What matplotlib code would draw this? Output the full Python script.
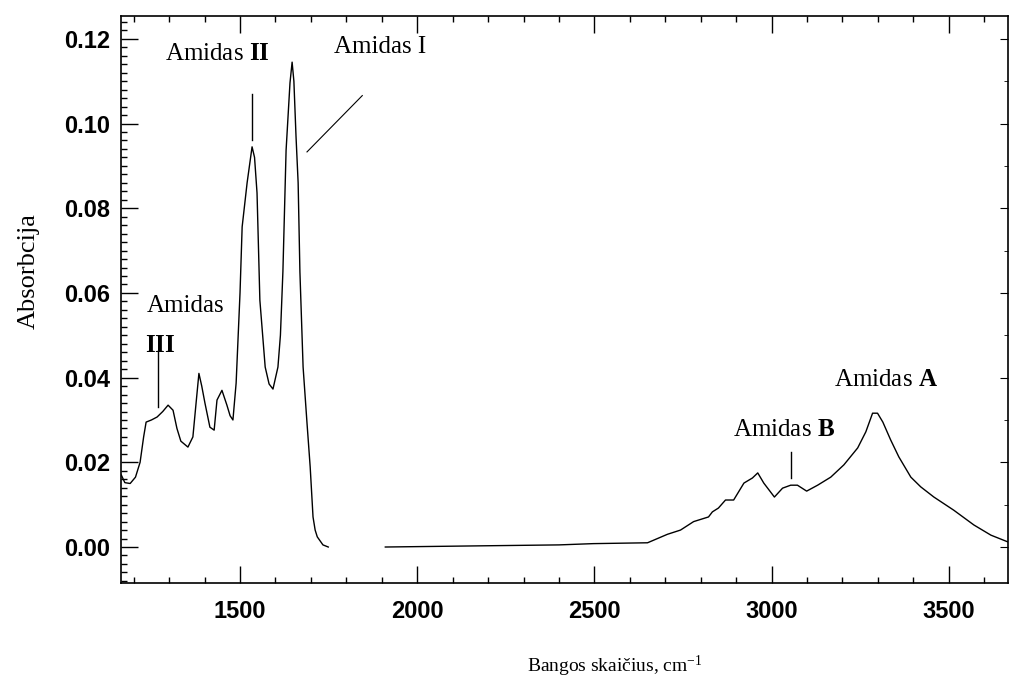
import matplotlib
matplotlib.use('Agg')
import matplotlib.pyplot as plt
from matplotlib.ticker import MultipleLocator

plt.rcParams['mathtext.fontset'] = 'custom'
plt.rcParams['mathtext.rm'] = 'Liberation Serif'
plt.rcParams['mathtext.bf'] = 'Liberation Serif:bold'
plt.rcParams['mathtext.it'] = 'Liberation Serif:italic'

# low wavenumber part (amide III, II, I)
wave_low = [1165, 1175, 1190, 1205, 1218, 1228, 1235, 1250, 1266, 1282, 1297,
            1311, 1322, 1333, 1353, 1367, 1376, 1384, 1392, 1401, 1415, 1427,
            1435, 1449, 1463, 1472, 1480, 1489, 1500, 1506, 1520, 1534, 1541,
            1548, 1556, 1571, 1582, 1593, 1607, 1614, 1621, 1630, 1641, 1647,
            1652, 1658, 1664, 1669, 1678, 1689, 1698, 1706, 1712, 1718, 1734,
            1749]
abs_low = [0.0170, 0.0152, 0.0150, 0.0165, 0.0200, 0.0260, 0.0295, 0.0300,
           0.0307, 0.0320, 0.0335, 0.0323, 0.0280, 0.0250, 0.0236, 0.0260,
           0.0340, 0.0410, 0.0380, 0.0340, 0.0283, 0.0276, 0.0347, 0.0370,
           0.0335, 0.0310, 0.0300, 0.0387, 0.0600, 0.0756, 0.0860, 0.0945,
           0.0920, 0.0836, 0.0583, 0.0425, 0.0385, 0.0373, 0.0425, 0.0500,
           0.0650, 0.0937, 0.1096, 0.1145, 0.1100, 0.0970, 0.0860, 0.0650,
           0.0425, 0.0293, 0.0189, 0.0071, 0.0040, 0.0024, 0.0005, 0.0000]

# high wavenumber part (amide B, A)
wave_high = [1910, 2200, 2400, 2497, 2650, 2706, 2743, 2780, 2822, 2833, 2850,
             2870, 2893, 2922, 2946, 2961, 2978, 3008, 3031, 3054, 3073, 3099,
             3130, 3167, 3204, 3243, 3266, 3285, 3299, 3314, 3336, 3359, 3393,
             3421, 3458, 3514, 3571, 3619, 3667]
abs_high = [0.0000, 0.0003, 0.0005, 0.0008, 0.0010, 0.0030, 0.0040, 0.0060,
            0.0071, 0.0083, 0.0092, 0.0111, 0.0111, 0.0151, 0.0163, 0.0175,
            0.0151, 0.0118, 0.0139, 0.0146, 0.0146, 0.0132, 0.0146, 0.0165,
            0.0194, 0.0234, 0.0272, 0.0316, 0.0316, 0.0295, 0.0253, 0.0213,
            0.0165, 0.0142, 0.0118, 0.0087, 0.0052, 0.0028, 0.0012]

x_ticks = [1500, 2000, 2500, 3000, 3500]
y_ticks = [0.00, 0.02, 0.04, 0.06, 0.08, 0.10, 0.12]

fig = plt.figure(figsize=(10.13, 6.92), dpi=100)
ax = fig.add_axes([0.1194, 0.1575, 0.8756, 0.8194])

ax.plot(wave_low, abs_low, color='black', lw=1.0)
ax.plot(wave_high, abs_high, color='black', lw=1.0)

ax.set_xlim(1164, 3667)
ax.set_ylim(-0.0085, 0.1254)
ax.set_xticks(x_ticks)
ax.set_yticks(y_ticks)
ax.set_yticklabels([f'{v:.2f}' for v in y_ticks])
ax.xaxis.set_minor_locator(MultipleLocator(100))
ax.yaxis.set_minor_locator(MultipleLocator(0.002))

for lab in ax.get_xticklabels() + ax.get_yticklabels():
    lab.set_fontfamily('Liberation Sans')
    lab.set_fontweight('bold')
    lab.set_fontsize(17)

ax.tick_params(which='both', direction='in', top=True, right=False, width=1.0)
ax.tick_params(which='major', length=12)
ax.tick_params(which='minor', length=4.5)
ax.tick_params(axis='x', which='major', pad=12)
ax.tick_params(axis='y', which='major', pad=8)

right = ax.secondary_yaxis('right')
right.set_yticks(y_ticks)
right.yaxis.set_minor_locator(MultipleLocator(0.01))
right.tick_params(which='both', direction='in', labelright=False)
right.tick_params(which='major', length=6)
right.tick_params(which='minor', length=3)
right.spines['right'].set_visible(False)

for s in ax.spines.values():
    s.set_linewidth(1.2)

ax.set_xlabel(r'Bangos skaičius, cm$^{-1}$', fontfamily='Liberation Serif', fontsize=14)
ax.xaxis.set_label_coords(0.557, -0.125)
ax.set_ylabel('Absorbcija', fontfamily='Liberation Serif', fontsize=19)
ax.yaxis.set_label_coords(-0.092, 0.55)

serif = dict(fontfamily='Liberation Serif', fontsize=18, ha='center', va='center')
ax.text(1435, 0.1165, r'Amidas $\mathbf{II}$', **serif)
ax.plot([1534, 1534], [0.0961, 0.1070], color='black', lw=1.0)

ax.text(1895, 0.1180, 'Amidas I', **serif)
ax.plot([1689, 1845], [0.0933, 0.1066], color='black', lw=0.8)

ax.text(1347, 0.0569, 'Amidas', **serif)
ax.text(1274, 0.0475, r'$\mathbf{III}$', **serif)
ax.plot([1268, 1268], [0.0331, 0.0460], color='black', lw=1.0)

ax.text(3034, 0.0276, r'Amidas $\mathbf{B}$', **serif)
ax.plot([3054, 3054], [0.0163, 0.0224], color='black', lw=1.0)

ax.text(3322, 0.0394, r'Amidas $\mathbf{A}$', **serif)

fig.savefig('out.png', dpi=100)
